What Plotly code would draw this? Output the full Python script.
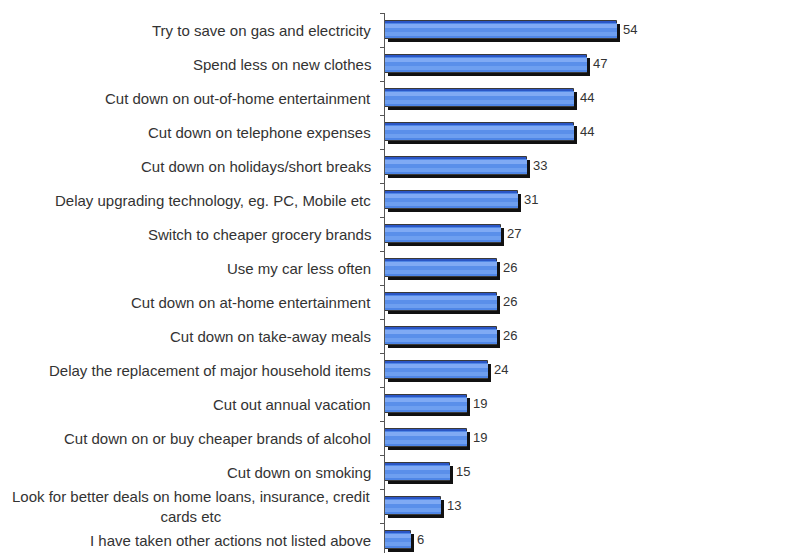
import plotly.graph_objects as go

categories = [
    "Try to save on gas and electricity",
    "Spend less on new clothes",
    "Cut down on out-of-home entertainment",
    "Cut down on telephone expenses",
    "Cut down on holidays/short breaks",
    "Delay upgrading technology, eg. PC, Mobile etc",
    "Switch to cheaper grocery brands",
    "Use my car less often",
    "Cut down on at-home entertainment",
    "Cut down on take-away meals",
    "Delay the replacement of major household items",
    "Cut out annual vacation",
    "Cut down on or buy cheaper brands of alcohol",
    "Cut down on smoking",
    "Look for better deals on home loans, insurance, credit<br>cards etc",
    "I have taken other actions not listed above",
]
values = [54, 47, 44, 44, 33, 31, 27, 26, 26, 26, 24, 19, 19, 15, 13, 6]

# page body has an 8px margin, so the figure is shrunk/shifted accordingly
PAGE_OFF = 8
W, H = 811 - PAGE_OFF, 553 - PAGE_OFF
L, T = 385 - PAGE_OFF, 13 - PAGE_OFF
px_per_unit = 4.3
xmax = (W - L) / px_per_unit
cat_px = 34.0
ymax_idx = -0.5 + (H - T) / cat_px

bw = 18 / cat_px
sh_dy = 3 / cat_px
sh_dx = 3 / px_per_unit

fig = go.Figure()
# shadow
fig.add_trace(go.Bar(
    y=categories, x=values, base=sh_dx, orientation="h",
    width=bw, offset=-bw / 2 + sh_dy,
    marker=dict(color="#111111", line=dict(width=0)),
    hoverinfo="skip", showlegend=False,
))
# main bar with outline
fig.add_trace(go.Bar(
    y=categories, x=values, orientation="h",
    width=bw, offset=-bw / 2,
    marker=dict(color="#2a56c6", line=dict(width=1, color="#3a3a3a")),
    showlegend=False,
))
# gradient layers
layers = [
    (0.84, 0.02, "#4f86e6"),
    (0.24, -0.22, "#80aaf4"),
    (0.30, 0.18, "#6e9ff0"),
    (0.22, -0.02, "#5a8fea"),
]
for frac, shift, col in layers:
    w = bw * frac
    fig.add_trace(go.Bar(
        y=categories, x=values, orientation="h",
        width=w, offset=-w / 2 + shift * bw,
        marker=dict(color=col, line=dict(width=0)),
        showlegend=False, hoverinfo="skip",
    ))
# value labels (transparent carrier bar ending at shadow edge)
fig.add_trace(go.Bar(
    y=categories, x=values, base=sh_dx, orientation="h",
    width=bw, offset=-bw / 2 - 1.5 / cat_px,
    marker=dict(color="rgba(0,0,0,0)", line=dict(width=0)),
    text=[str(v) for v in values], textposition="outside",
    textfont=dict(family="Liberation Sans, Arial", size=13, color="#333333"),
    cliponaxis=False, hoverinfo="skip", showlegend=False,
))

for c in categories:
    fig.add_annotation(
        x=0, xref="paper", y=c, yref="y", xanchor="right", yanchor="middle",
        xshift=-12, text=c, showarrow=False, align="center",
        font=dict(family="Liberation Sans, Arial", size=15, color="#333333"),
    )

fig.add_annotation(x=(802 - 385) / (811 - 385), xref="paper", y=categories[7], yref="y",
                   xanchor="left", text="5", showarrow=False,
                   font=dict(family="Liberation Sans, Arial", size=9, color="#555555"))

fig.update_layout(
    width=W, height=H,
    margin=dict(l=L, r=0, t=T, b=0, pad=0),
    paper_bgcolor="white", plot_bgcolor="white",
    barmode="overlay", bargap=0,
    xaxis=dict(range=[0, xmax], visible=False, fixedrange=True),
    yaxis=dict(
        type="category", range=[ymax_idx, -0.5],
        showticklabels=False, showgrid=False, zeroline=False,
        showline=True, linecolor="#555555", linewidth=1,
        ticks="outside", tickson="boundaries", ticklen=4, tickcolor="#555555",
    ),
)

fig.write_html("out.html")
